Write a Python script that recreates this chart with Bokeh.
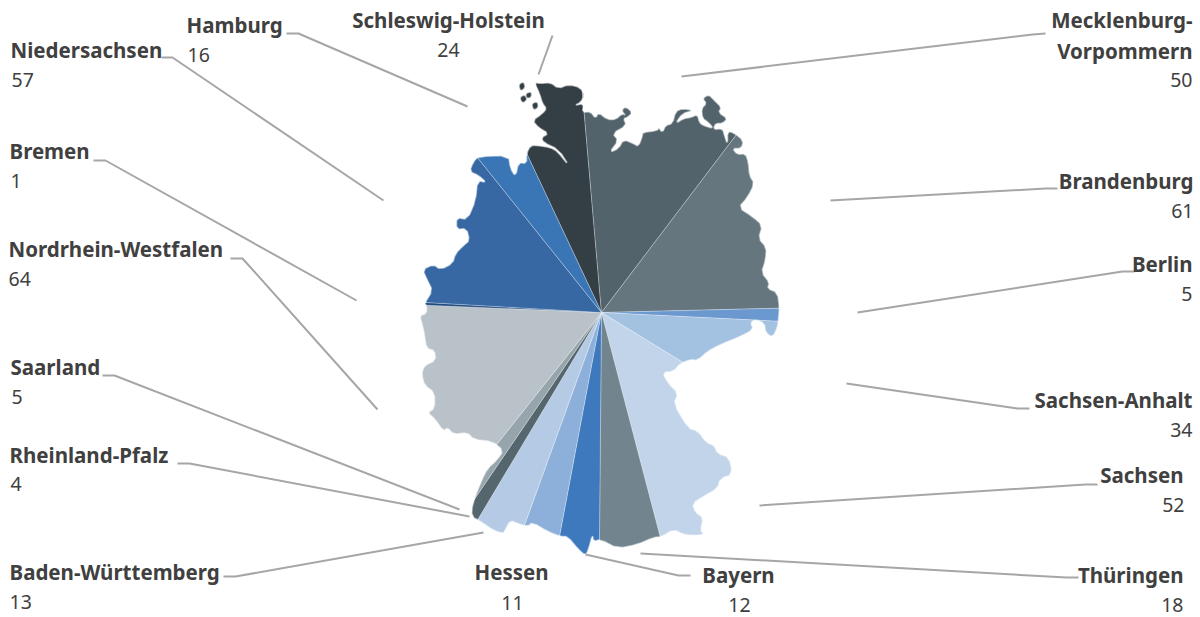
import math
from bokeh.plotting import figure
from bokeh.embed import file_html
from bokeh.resources import INLINE
from bokeh.core.properties import value
from bokeh.models import ColumnDataSource

states = ["Schleswig-Holstein", "Mecklenburg-\nVorpommern", "Brandenburg", "Berlin", "Sachsen-Anhalt", "Sachsen",
          "Thüringen", "Bayern", "Hessen", "Baden-Württemberg", "Rheinland-Pfalz", "Saarland",
          "Nordrhein-Westfalen", "Bremen", "Niedersachsen", "Hamburg"]
counts = [24, 50, 61, 5, 34, 52, 18, 12, 11, 13, 4, 5, 64, 1, 57, 16]
colors = ["#343e45", "#52636c", "#65767f", "#6a98cf", "#a3c1e1", "#c2d4ea", "#72858e", "#3e79bd",
          "#8db0da", "#b5cbe5", "#55666e", "#96a4ab", "#b9c2c8", "#1f4a80", "#3768a3", "#3a76b5"]

# layout: screen-pixel coordinates
CX, CY, R, START = 601, 312, 300, -25.2
outline = [(534,82),(540,83),(550,82),(558,88),(568,84),(580,87),(584,95),(580,102),(574,105),(583,103),(582,112),(590,111),
 (595,118),(598,112),(607,119),(615,119),(622,113),(625,115),(621,110),(625,106),(632,112),(627,117),(623,118),(626,125),(612,133),
 (618,140),(609,152),(618,148),(623,139),(633,143),(638,146),(642,135),(642,132),(657,130),(658,127),(662,132),(665,125),(672,123),
 (675,111),(682,108),(693,110),(682,113),(675,123),(683,118),(690,117),(697,114),(699,122),(703,125),(713,128),(708,122),(702,118),
 (701,108),(706,103),(702,98),(708,94),(714,100),(721,107),(718,112),(727,118),(722,123),(715,123),(713,129),(722,128),(724,135),
 (727,144),(727,131),(733,132),(743,140),(741,148),(732,148),(737,154),(745,153),(748,162),(749,175),(754,183),(747,197),(738,207),
 (752,216),(762,225),(758,238),(766,247),(765,260),(761,272),(769,282),(767,288),(777,292),(779,307),(778,319),(777,327),(772,337),
 (765,332),(764,323),(755,319),(750,322),(753,329),(740,336),(720,344),(707,351),(697,360),(690,359),(680,363),(673,371),(662,372),
 (668,383),(678,393),(673,403),(688,428),(697,430),(706,442),(714,445),(717,453),(729,457),(732,474),(720,478),(717,488),(703,496),
 (692,503),(695,512),(703,517),(700,530),(704,534),(693,535),(683,534),(673,529),(662,536),(653,537),(637,544),(617,548),(600,539),
 (593,541),(592,534),(588,549),(585,555),(578,549),(567,536),(560,536),(547,531),(532,522),(527,526),(517,523),(510,520),(505,529),
 (503,533),(493,530),(480,521),(471,516),(472,503),(481,480),(487,468),(496,460),(503,450),(492,441),(473,439),(467,432),(453,434),
 (447,427),(443,431),(434,418),(427,412),(434,408),(434,392),(424,385),(421,373),(424,365),(435,360),(434,350),(426,348),(424,335),
 (422,325),(419,315),(426,313),(426,305),(424,303),(432,290),(427,280),(422,269),(433,264),(440,269),(452,263),(455,253),(463,245),
 (469,240),(466,228),(456,229),(456,217),(467,219),(475,200),(477,180),(486,182),(478,175),(469,171),(473,161),(478,156),(508,155),
 (510,168),(515,176),(518,162),(526,163),(526,153),(530,145),(537,145),(550,147),(557,151),(569,166),(558,149),(543,142),(541,137),
 (548,133),(538,127),(532,120),(542,113),(546,108),(542,103),(539,93)]
islands = [[(518,84),(523,81),(525,87),(520,91)], [(525,93),(531,91),(531,97),(526,98)],
           [(519,97),(524,94),(527,99),(522,103)], [(531,103),(537,101),(538,107),(533,110)]]

name_pos = [(448,19,"center"),(1192,35,"right"),(1193,180,"right"),(1192,263,"right"),(1192,399,"right"),(1183,474,"right"),
            (1183,574,"right"),(738,574,"center"),(511,571,"center"),(9,571,"left"),(9,454,"left"),(10,366,"left"),
            (8,248,"left"),(9,150,"left"),(10,49,"left"),(186,24,"left")]
value_pos = [(448,49,"center"),(1192,79,"right"),(1193,210,"right"),(1192,293,"right"),(1192,429,"right"),(1184,504,"right"),
             (1183,604,"right"),(739,604,"center"),(512,602,"center"),(9,601,"left"),(10,483,"left"),(11,396,"left"),
             (8,278,"left"),(10,180,"left"),(11,79,"left"),(187,54,"left")]
leaders = [[(552,35),(538,74)], [(1045,33),(1032,34),(681,76)], [(1057,188),(1045,188),(830,200)],
           [(1134,271),(1122,271),(857,312)], [(1029,408),(1017,408),(846,383)], [(1097,484),(1085,484),(759,505)],
           [(1078,577),(1066,577),(640,553)], [(690,575),(678,575),(585,554)], [],
           [(223,576),(235,576),(483,532)], [(177,463),(189,463),(469,516)], [(102,375),(114,375),(459,509)],
           [(230,258),(242,258),(377,409)], [(93,160),(105,160),(356,300)], [(161,57),(172,57),(383,200)],
           [(286,33),(298,33),(467,106)]]


def rounded(ring):
    """Corner-cut a traced ring once, so the map edge reads as soft as in the reference."""
    out = []
    for i, (x0, y0) in enumerate(ring):
        x1, y1 = ring[(i + 1) % len(ring)]
        out.append((0.75 * x0 + 0.25 * x1, 0.75 * y0 + 0.25 * y1))
        out.append((0.25 * x0 + 0.75 * x1, 0.25 * y0 + 0.75 * y1))
    return out


p = figure(width=1200, height=617, x_range=(0, 1200), y_range=(617, 0), output_backend="svg",
           toolbar_location=None, min_border=0, outline_line_color=None)
p.axis.visible = False
p.grid.visible = False

total = sum(counts)
starts, ends = [], []
acc = 0
for c in counts:
    # clockwise from the top of the pie, converted to Bokeh's anticlockwise-from-east angle
    a0 = START + acc / total * 360
    acc += c
    a1 = START + acc / total * 360
    starts.append(math.radians(90 - a1))
    ends.append(math.radians(90 - a0))
src = ColumnDataSource(dict(x=[CX]*len(counts), y=[CY]*len(counts), start=starts, end=ends, color=colors))
p.wedge("x", "y", radius=R, start_angle="start", end_angle="end", fill_color="color",
        line_color="#ffffff", line_width=0.6, line_alpha=0.45, source=src)

# white page with a Germany-shaped window; the translucent edge softens the cut
rings = [rounded(outline)] + [rounded(r) for r in islands]
p.multi_polygons(
    xs=[[[[-60, 1260, 1260, -60]] + [[q[0] for q in r] for r in rings]]],
    ys=[[[[-60, -60, 680, 680]] + [[q[1] for q in r] for r in rings]]],
    fill_color="#ffffff", line_color="#ffffff", line_width=1.6, line_alpha=0.5)

lx = [[q[0] for q in l] for l in leaders if l]
ly = [[q[1] for q in l] for l in leaders if l]
p.multi_line(lx, ly, line_color="#a6a6a6", line_width=2)

FONT = value("Noto Sans")
for g in ("left", "center", "right"):
    idx = [i for i, q in enumerate(name_pos) if q[2] == g]
    p.text([name_pos[i][0] for i in idx], [name_pos[i][1] for i in idx], text=[states[i] for i in idx],
           text_font=FONT, text_font_style="bold", text_font_size="20.5px", text_color="#404040",
           text_align=g, text_baseline="middle", text_line_height=1.08)
    idx = [i for i, q in enumerate(value_pos) if q[2] == g]
    p.text([value_pos[i][0] for i in idx], [value_pos[i][1] for i in idx], text=[str(counts[i]) for i in idx],
           text_font=FONT, text_font_size="19.5px", text_color="#404040", text_align=g, text_baseline="middle")

open("out.html", "w").write(file_html(p, INLINE))
